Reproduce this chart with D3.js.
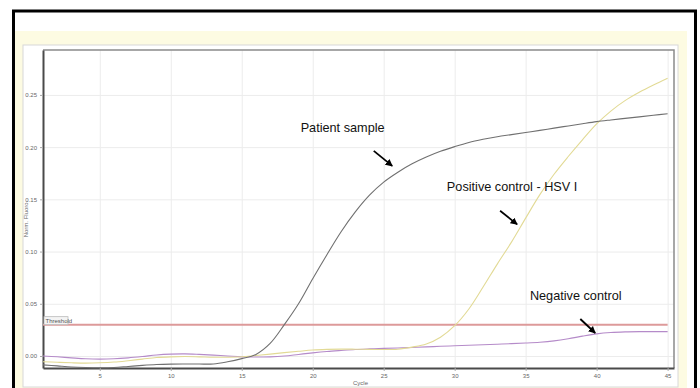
<!DOCTYPE html>
<html lang="en">
<head>
    <meta charset="UTF-8">
    <title>Amplification plot</title>
    <script src="https://d3js.org/d3.v7.min.js"></script>
    <style>
        body { margin: 0; background: #fff; }
        text { font-family: "Liberation Sans", Arial, sans-serif; }
    </style>
</head>
<body>
    <svg id="chart" width="700" height="388"></svg>
    <script>
        // cycles 1..45
        const cycles = d3.range(1, 46);

        const patient = [
            -0.0085, -0.0095, -0.0105, -0.0110, -0.0112, -0.0110, -0.0100, -0.0090, -0.0082, -0.0078,
            -0.0077, -0.0077, -0.0076, -0.0055, -0.0025, 0.0015, 0.0120, 0.0300, 0.0500, 0.0740,
            0.0970, 0.1190, 0.1380, 0.1540, 0.1665, 0.1760, 0.1840, 0.1905, 0.1960, 0.2005,
            0.2045, 0.2075, 0.2100, 0.2120, 0.2140, 0.2160, 0.2182, 0.2203, 0.2224, 0.2244,
            0.2260, 0.2275, 0.2290, 0.2305, 0.2320
        ];
        const positive = [
            -0.0055, -0.0060, -0.0065, -0.0068, -0.0065, -0.0058, -0.0045, -0.0030, -0.0015, -0.0008,
            -0.0005, -0.0008, -0.0012, -0.0012, -0.0008, 0.0005, 0.0018, 0.0032, 0.0045, 0.0057,
            0.0063, 0.0066, 0.0065, 0.0063, 0.0062, 0.0065, 0.0085, 0.0115, 0.0180, 0.0290,
            0.0450, 0.0660, 0.0880, 0.1090, 0.1320, 0.1545, 0.1740, 0.1910, 0.2070, 0.2222,
            0.2345, 0.2445, 0.2525, 0.2595, 0.2660
        ];
        const negative = [
            0.0000, -0.0008, -0.0018, -0.0027, -0.0030, -0.0027, -0.0018, -0.0005, 0.0010, 0.0018,
            0.0020, 0.0015, 0.0008, 0.0000, -0.0008, -0.0010, -0.0008, 0.0000, 0.0015, 0.0030,
            0.0043, 0.0053, 0.0062, 0.0068, 0.0073, 0.0077, 0.0082, 0.0087, 0.0093, 0.0098,
            0.0103, 0.0108, 0.0113, 0.0118, 0.0124, 0.0132, 0.0145, 0.0165, 0.0190, 0.0212,
            0.0225, 0.0231, 0.0233, 0.0233, 0.0233
        ];
        const threshold = 0.03;

        const xTicks = [5, 10, 15, 20, 25, 30, 35, 40, 45];
        const yTicks = [0, 0.05, 0.10, 0.15, 0.20, 0.25];

        const series = [
            {name: "Negative control", values: negative, color: "#b58bc9"},
            {name: "Positive control - HSV I", values: positive, color: "#e2da95"},
            {name: "Patient sample", values: patient, color: "#707070"}
        ];

        // text label at (cx, cy), arrow from (ax1, ay1) to (ax2, ay2), all in cycle/fluoro units
        const notes = [
            {text: "Patient sample", cx: 19.15, cy: 0.2146, ax1: 24.3, ay1: 0.1964, ax2: 25.6, ay2: 0.182},
            {text: "Positive control - HSV I", cx: 29.45, cy: 0.158, ax1: 33.2, ay1: 0.139, ax2: 34.4, ay2: 0.126},
            {text: "Negative control", cx: 35.3, cy: 0.0536, ax1: 38.85, ay1: 0.0354, ax2: 39.9, ay2: 0.022}
        ];

        const svg = d3.select("#chart");

        // outer frame and panels
        svg.append("rect").attr("x", 13.5).attr("y", 11).attr("width", 682).attr("height", 390)
            .attr("fill", "#fff").attr("stroke", "#000").attr("stroke-width", 3);
        svg.append("rect").attr("x", 15).attr("y", 31).attr("width", 672).attr("height", 360)
            .attr("fill", "#fdfbe2");
        svg.append("rect").attr("x", 23).attr("y", 45).attr("width", 655).attr("height", 342)
            .attr("fill", "#fff").attr("stroke", "#d8d8d8").attr("stroke-width", 1);

        const pLeft = 43, pRight = 674, pTop = 50, pBottom = 368;

        const x = d3.scaleLinear().domain([1, 45.45]).range([pLeft, pRight]);
        const y = d3.scaleLinear().domain([-0.0115, 0.293]).range([pBottom, pTop]);

        const g = svg.append("g");

        // grid
        g.append("g")
            .attr("transform", `translate(0,${pBottom})`)
            .call(d3.axisBottom(x).tickValues(xTicks).tickSize(-(pBottom - pTop)).tickFormat(""))
            .call(a => a.select(".domain").remove())
            .selectAll("line").attr("stroke", "#ececec");
        g.append("g")
            .attr("transform", `translate(${pLeft},0)`)
            .call(d3.axisLeft(y).tickValues(yTicks).tickSize(-(pRight - pLeft)).tickFormat(""))
            .call(a => a.select(".domain").remove())
            .selectAll("line").attr("stroke", "#ececec");

        // frame top/right
        g.append("path")
            .attr("d", `M${pLeft},${pTop}H${pRight}V${pBottom}`)
            .attr("fill", "none").attr("stroke", "#8a8a8a").attr("stroke-width", 1.5);

        // axes
        const xAxis = g.append("g")
            .attr("transform", `translate(0,${pBottom})`)
            .call(d3.axisBottom(x).tickValues(xTicks).tickSize(3).tickSizeOuter(0).tickFormat(d3.format("d")));
        const yAxis = g.append("g")
            .attr("transform", `translate(${pLeft},0)`)
            .call(d3.axisLeft(y).tickValues(yTicks).tickSize(3).tickSizeOuter(0).tickFormat(d3.format(".2f")));

        [xAxis, yAxis].forEach(a => {
            a.select(".domain").attr("stroke", "#4a4a4a").attr("stroke-width", 2);
            a.selectAll(".tick line").attr("stroke", "#aaa");
            a.selectAll(".tick text").attr("fill", "#666").style("font-size", "6px")
                .style("font-family", "Liberation Sans, Arial, sans-serif");
        });

        g.append("text")
            .attr("x", (pLeft + pRight) / 2 + 2).attr("y", pBottom + 17)
            .attr("text-anchor", "middle").attr("fill", "#666").style("font-size", "6px")
            .text("Cycle");
        g.append("text")
            .attr("transform", `translate(${pLeft - 15},${(pTop + pBottom) / 2 + 10}) rotate(-90)`)
            .attr("text-anchor", "middle").attr("fill", "#666").style("font-size", "6px")
            .text("Norm. Fluoro.");

        // threshold
        g.append("line")
            .attr("x1", x(1)).attr("x2", x(45))
            .attr("y1", y(threshold)).attr("y2", y(threshold))
            .attr("stroke", "#dd9a9a").attr("stroke-width", 2);
        const th = g.append("g").attr("transform", `translate(${pLeft + 1},${y(threshold) - 8})`);
        th.append("rect").attr("width", 24).attr("height", 8)
            .attr("fill", "#f4f4f4").attr("stroke", "#bbb").attr("stroke-width", 0.8);
        th.append("text").attr("x", 1.5).attr("y", 6.2).attr("fill", "#555")
            .style("font-size", "6px").text("Threshold");

        // curves
        const line = d3.line()
            .x((d, i) => x(cycles[i]))
            .y(d => y(d))
            .curve(d3.curveCatmullRom);

        g.selectAll(".curve")
            .data(series)
            .enter()
            .append("path")
                .attr("class", "curve")
                .attr("d", d => line(d.values))
                .attr("fill", "none")
                .attr("stroke", d => d.color)
                .attr("stroke-width", 1.1);

        // annotations
        svg.append("defs").append("marker")
            .attr("id", "arrow").attr("viewBox", "0 0 10 10")
            .attr("refX", 9).attr("refY", 5)
            .attr("markerWidth", 4).attr("markerHeight", 4)
            .attr("orient", "auto")
            .append("path").attr("d", "M0,0L10,5L0,10z").attr("fill", "#000");

        g.selectAll(".note")
            .data(notes)
            .enter()
            .append("text")
                .attr("class", "note")
                .attr("x", d => x(d.cx))
                .attr("y", d => y(d.cy))
                .attr("fill", "#111")
                .style("font-size", "12.7px")
                .text(d => d.text);

        g.selectAll(".arrow")
            .data(notes)
            .enter()
            .append("line")
                .attr("class", "arrow")
                .attr("x1", d => x(d.ax1)).attr("y1", d => y(d.ay1))
                .attr("x2", d => x(d.ax2)).attr("y2", d => y(d.ay2))
                .attr("stroke", "#000").attr("stroke-width", 1.8)
                .attr("marker-end", "url(#arrow)");
    </script>
</body>
</html>
